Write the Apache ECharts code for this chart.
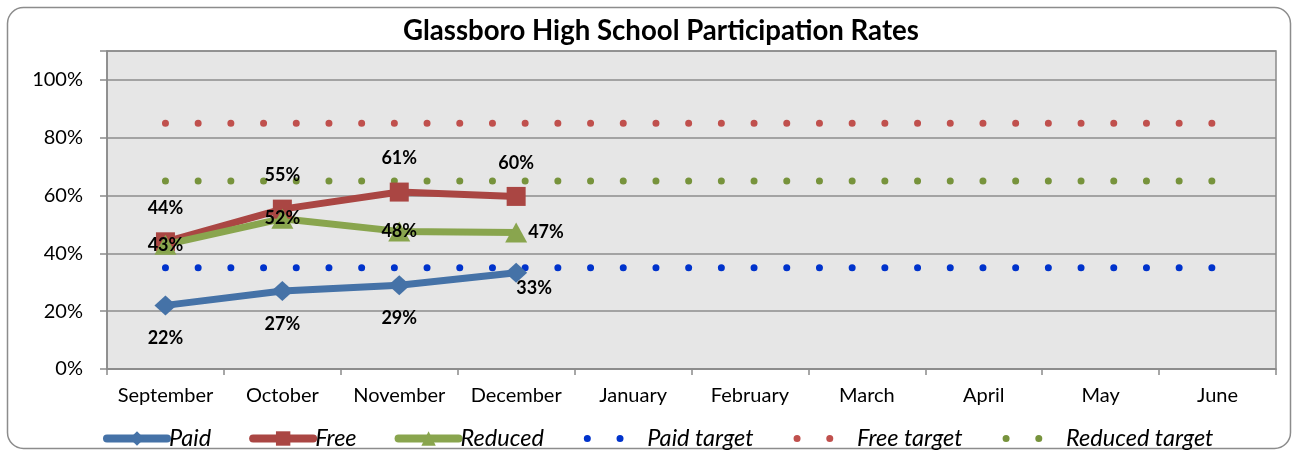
<!DOCTYPE html>
<html><head><meta charset="utf-8">
<script src="https://cdn.jsdelivr.net/npm/echarts@6/dist/echarts.min.js"></script>
<style>html,body{margin:0;padding:0;background:#fff}#c{width:1298px;height:450px}</style>
</head><body><div id="c"></div>
<script>
const months = ['September','October','November','December','January','February','March','April','May','June'];
const paid = [0.22, 0.27, 0.29, 0.333];
const free = [0.44, 0.553, 0.612, 0.597];
const reduced = [0.43, 0.52, 0.476, 0.472];
const paidTarget = [0.35,0.35,0.35,0.35,0.35,0.35,0.35,0.35,0.35,0.35];
const freeTarget = [0.85,0.85,0.85,0.85,0.85,0.85,0.85,0.85,0.85,0.85];
const reducedTarget = [0.65,0.65,0.65,0.65,0.65,0.65,0.65,0.65,0.65,0.65];
const yTicks = [0, 0.2, 0.4, 0.6, 0.8, 1.0];
const seriesNames = ['Paid','Free','Reduced','Paid target','Free target','Reduced target'];

const FONT = 'Lato';
const DOT_PERIOD = 32.7;
const pct = p => Math.round(p.value * 100) + '%';
const lbl = {show:true, formatter:pct, color:'#000', fontFamily:FONT, fontWeight:'bold', fontSize:18};

function target(name, data, color){
  return {name, type:'line', data, symbol:'none', z:3,
    lineStyle:{color, width:7, type:[0.01, DOT_PERIOD - 0.01], cap:'round'},
    itemStyle:{color}, silent:true};
}

const legendData = seriesNames.map((n, i) => i < 3 ? {name:n} : {
  name:n,
  itemStyle:{color:'rgba(0,0,0,0)', borderWidth:0},
  lineStyle:{width:7, type:[0.01, DOT_PERIOD - 0.01], cap:'round', dashOffset:DOT_PERIOD - 2}
});

const chart = echarts.init(document.getElementById('c'), null, {renderer:'canvas'});
chart.setOption({
  animation:false,
  backgroundColor:'#fff',
  title:{text:'Glassboro High School Participation Rates', left:398, top:12,
    textStyle:{fontFamily:FONT, fontWeight:'bold', fontSize:27.6, color:'#000'}},
  graphic:[{type:'rect', silent:true, z:-10,
    shape:{x:7.5, y:7.5, width:1283, height:441, r:16},
    style:{fill:'none', stroke:'#8c8c8c', lineWidth:1.5}}],
  grid:{left:107, top:51, right:22, bottom:81, show:true, backgroundColor:'#E6E6E6',
    borderColor:'#8a8a8a', borderWidth:1.5, containLabel:false},
  legend:{left:103, top:427, itemWidth:60, itemHeight:18, itemGap:38, padding:0,
    lineStyle:{width:8, cap:'round'},
    textStyle:{fontFamily:FONT, fontStyle:'italic', fontSize:23.5, color:'#000', padding:[0,0,0,-3]},
    data:legendData},
  xAxis:{type:'category', data:months, boundaryGap:true,
    axisLine:{lineStyle:{color:'#8a8a8a', width:1.5}},
    axisTick:{show:true, length:6, lineStyle:{color:'#8a8a8a', width:1.5}},
    axisLabel:{color:'#000', fontFamily:FONT, fontSize:20, margin:17, interval:0},
    splitLine:{show:false}},
  yAxis:{type:'value', min:0, max:1.1, interval:0.2,
    axisLine:{show:true, lineStyle:{color:'#8a8a8a', width:1.5}},
    axisTick:{show:true, length:7, lineStyle:{color:'#8a8a8a', width:1.5}},
    axisLabel:{color:'#000', fontFamily:FONT, fontSize:20, margin:24,
      formatter:v => yTicks.some(t => Math.abs(t - v) < 1e-6) ? Math.round(v*100) + '%' : ''},
    splitLine:{lineStyle:{color:'#8c8c8c', width:1.5}}},
  series:[
    {name:'Paid', type:'line', z:4, symbol:'diamond', symbolSize:[22,20],
      data:paid.map((v,i) => i === 3 ? {value:v, label:{position:'inside', offset:[18,15]}} : v),
      lineStyle:{color:'#4572A7', width:7}, itemStyle:{color:'#4572A7'},
      label:Object.assign({position:'bottom', distance:14}, lbl)},
    {name:'Free', type:'line', z:4, symbol:'rect', symbolSize:19,
      data:free, lineStyle:{color:'#AA4643', width:7}, itemStyle:{color:'#AA4643'},
      label:Object.assign({position:'top', distance:15}, lbl)},
    {name:'Reduced', type:'line', z:4, symbol:'triangle', symbolSize:[22,20],
      data:reduced.map((v,i) => i === 3 ? {value:v, label:{position:'right', distance:1}} : v),
      lineStyle:{color:'#89A54E', width:7}, itemStyle:{color:'#89A54E'},
      label:Object.assign({position:'inside'}, lbl)},
    target('Paid target', paidTarget, '#0033CC'),
    target('Free target', freeTarget, '#C0504D'),
    target('Reduced target', reducedTarget, '#77933C')
  ]
});
</script></body></html>
